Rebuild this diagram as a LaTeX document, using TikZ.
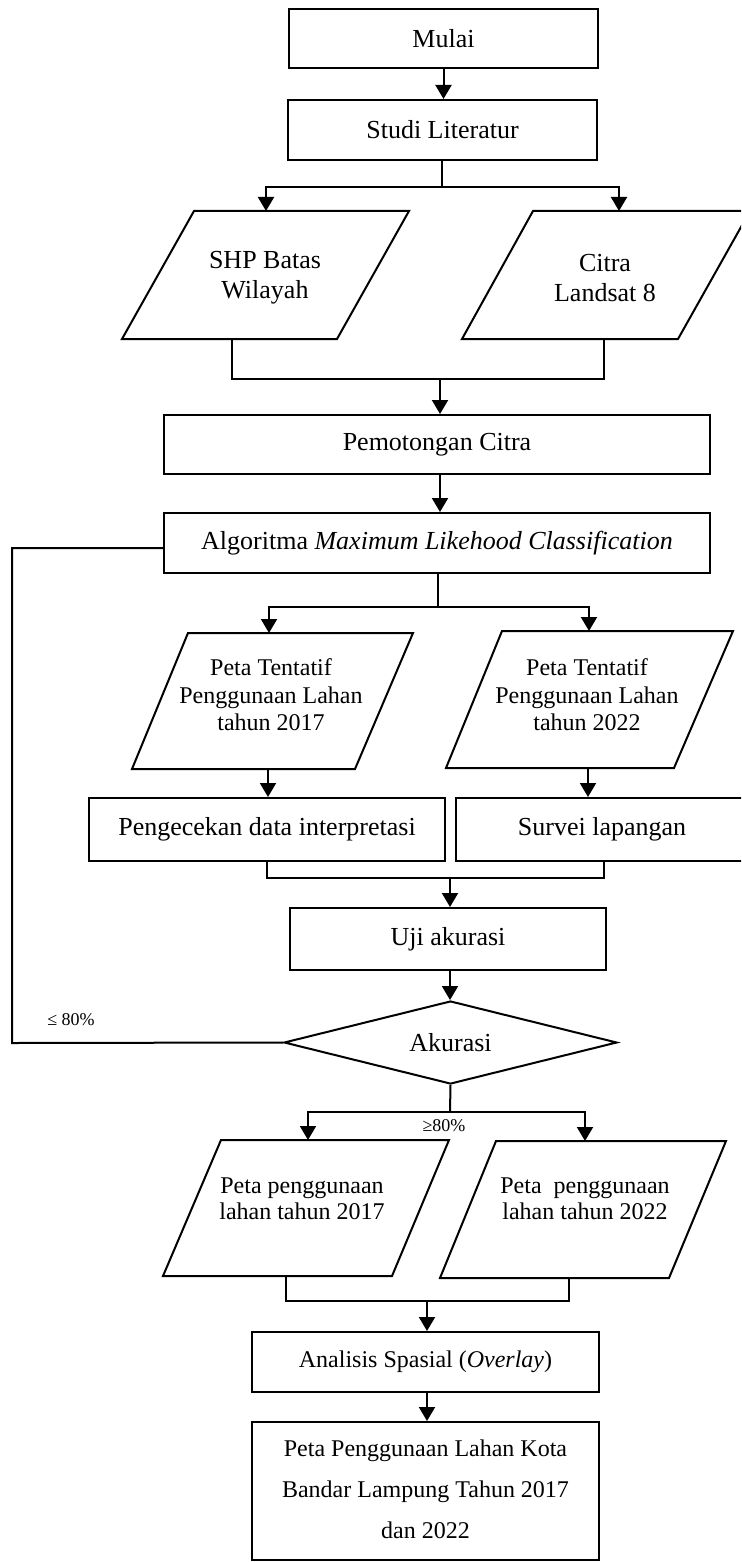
\documentclass[tikz,border=0pt]{standalone}
\usepackage{fontspec}
\setmainfont{Liberation Serif}
\usetikzlibrary{arrows.meta,shapes.geometric}
\begin{document}
\begin{tikzpicture}[x=0.5pt,y=-0.5pt,
  shp/.style={draw, line width=1pt, inner sep=0pt},
  bx/.style={shp, rectangle, align=center, font=\fontsize{13}{15.6}\selectfont},
  bxs/.style={shp, rectangle, align=center, font=\fontsize{12}{14}\selectfont},
  pl/.style={line width=1pt},
  ptxt/.style={align=center, inner sep=0pt},
  ln/.style={line width=1pt},
  ar/.style={ln, -{Triangle[width=8pt,length=7pt]}},
  lbl/.style={font=\fontsize{9}{10}\selectfont, inner sep=0pt}]
\useasboundingbox (0,0) rectangle (741,1562);
\clip (0,0) rectangle (741,1562);

% boxes
\node[bx, minimum width=154.5pt, minimum height=29.5pt] (mulai) at (443.5,38.5) {Mulai};
\node[bx, minimum width=154.5pt, minimum height=30pt] (studi) at (442.5,130) {Studi Literatur};
\node[bx, minimum width=273pt, minimum height=29.5pt] (pemo) at (437,444.5) {Pemotongan Citra};
\node[bx, minimum width=273pt, minimum height=30pt] (algo) at (437,543) {Algoritma \textit{Maximum Likehood Classification}};
\node[bx, minimum width=178pt, minimum height=31.5pt] (cek) at (267,829.5) {Pengecekan data interpretasi};
\node[bx, minimum width=146pt, minimum height=31.5pt] (survei) at (602,829.5) {Survei lapangan};
\node[bx, minimum width=158pt, minimum height=31pt] (uji) at (448,939) {Uji akurasi};
\node[shp, diamond, minimum width=166.5pt, minimum height=41.5pt, shape aspect=4,
      font=\fontsize{13}{15.6}\selectfont] (akur) at (450.5,1042.5) {Akurasi};
\node[bxs, minimum width=173.5pt, minimum height=30pt] (anal) at (425.5,1362) {Analisis Spasial (\textit{Overlay})};
\node[shp, rectangle, minimum width=173.5pt, minimum height=69pt] (hasil) at (425.5,1491) {};
\node[ptxt, font=\fontsize{12}{20.5}\selectfont] (hasilt) at (425.5,1489)
  {Peta Penggunaan Lahan Kota\\Bandar Lampung Tahun 2017\\dan 2022};

% parallelograms
\draw[pl] (194,211) -- (409,211) -- (337,339) -- (122,339) -- cycle;
\node[ptxt, font=\fontsize{13}{15}\selectfont] (shp) at (265,278) {SHP Batas\\Wilayah};
\draw[pl] (533,211) -- (750,211) -- (678,339) -- (462,339) -- cycle;
\node[ptxt, font=\fontsize{13}{15}\selectfont] (citra) at (605,278) {Citra\\Landsat 8};

\draw[pl] (188,633) -- (413,633) -- (355,769) -- (132,769) -- cycle;
\node[ptxt, font=\fontsize{12}{13.8}\selectfont] (pt17) at (271,695) {Peta Tentatif\\Penggunaan Lahan\\tahun 2017};
\draw[pl] (502,631) -- (733,631) -- (674,768) -- (446,768) -- cycle;
\node[ptxt, font=\fontsize{12}{13.8}\selectfont] (pt22) at (587,695) {Peta Tentatif\\Penggunaan Lahan\\tahun 2022};

\draw[pl] (221,1140) -- (449,1140) -- (392,1276) -- (163,1276) -- cycle;
\node[ptxt, font=\fontsize{12}{13}\selectfont] (pp17) at (302,1199) {Peta penggunaan\\lahan tahun 2017};
\draw[pl] (496,1141) -- (726,1141) -- (669,1278) -- (440,1278) -- cycle;
\node[ptxt, font=\fontsize{12}{13}\selectfont] (pp22) at (585,1199) {Peta\enspace penggunaan\\lahan tahun 2022};

% connector coordinates
\coordinate (b1) at (442,187);
\coordinate (shpT) at (266,211);
\coordinate (citraT) at (619,211);
\coordinate (shpB) at (232,339);
\coordinate (citraB) at (604,339);
\coordinate (j1) at (440,379);
\coordinate (b2) at (438,607);
\coordinate (pt17T) at (269,633);
\coordinate (pt22T) at (589,631);
\coordinate (pt17B) at (268,769);
\coordinate (pt22B) at (588,768);
\coordinate (j2) at (450,878);
\coordinate (b3) at (450,1112);
\coordinate (pp17T) at (308,1140);
\coordinate (pp22T) at (585,1141);
\coordinate (pp17B) at (286,1276);
\coordinate (pp22B) at (569,1278);
\coordinate (j3) at (427,1301);
\coordinate (loopB) at (12,1043);
\coordinate (loopT) at (12,548);

% connectors
\draw[ar] (mulai.south) -- (mulai.south |- studi.north);
\draw[ln] (studi.south -| b1) -- (b1);
\draw[ar] (b1) -| (shpT);
\draw[ar] (b1) -| (citraT);
\draw[ln] (shpB) |- (j1) -| (citraB);
\draw[ar] (j1) -- (j1 |- pemo.north);
\draw[ar] (pemo.south -| j1) -- (j1 |- algo.north);
\draw[ln] (algo.south -| b2) -- (b2);
\draw[ar] (b2) -| (pt17T);
\draw[ar] (b2) -| (pt22T);
\draw[ar] (pt17B) -- (pt17B |- cek.north);
\draw[ar] (pt22B) -- (pt22B |- survei.north);
\draw[ln] (cek.south) |- (j2) -| (citraB |- survei.south);
\draw[ar] (j2) -- (j2 |- uji.north);
\draw[ar] (uji.south -| j2) -- (j2 |- akur.north);
\draw[ln] (akur.west) -- (loopB) -- (loopT) -- (loopT -| algo.west);
\draw[ln] (akur.south) -- (b3);
\draw[ar] (b3) -| (pp17T);
\draw[ar] (b3) -| (pp22T);
\draw[ln] (pp17B) |- (j3) -| (pp22B);
\draw[ar] (j3) -- (j3 |- anal.north);
\draw[ar] (anal.south -| j3) -- (j3 |- hasil.north);

% labels
\node[lbl] (lt) at (71,1020) {≤ 80\%};
\node[lbl] (ge) at (444,1126) {≥80\%};
\end{tikzpicture}
\end{document}
